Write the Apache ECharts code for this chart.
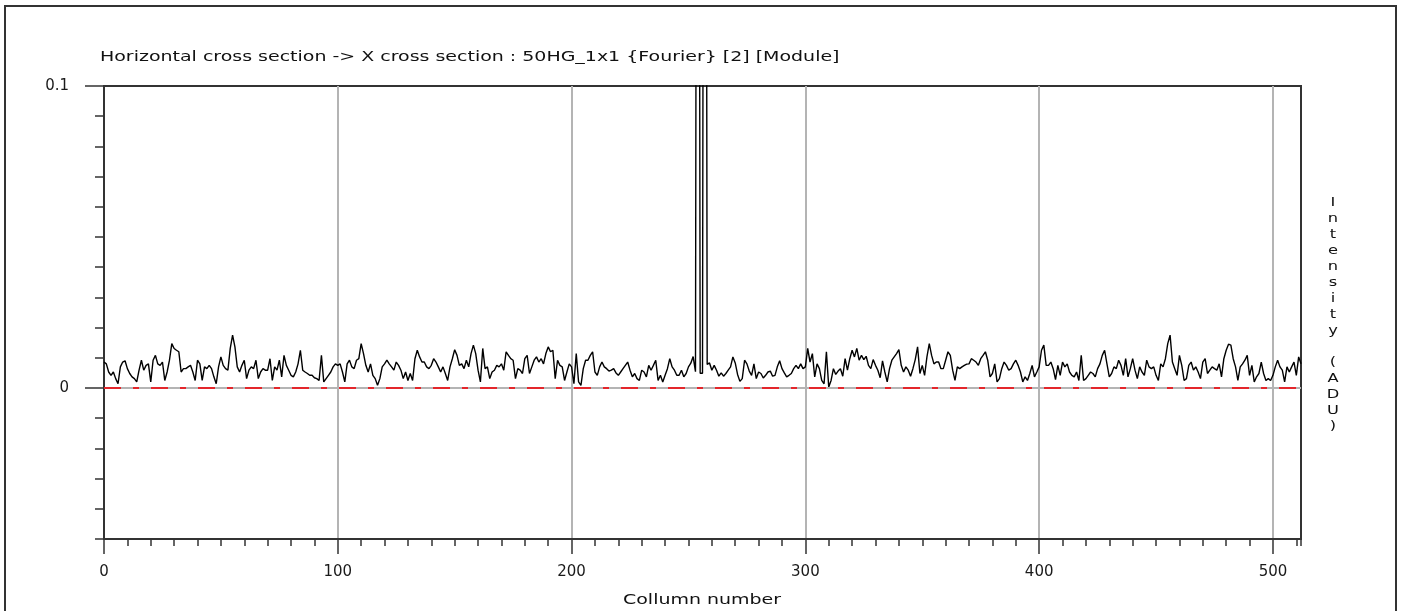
<!DOCTYPE html>
<html><head><meta charset="utf-8">
<script src="https://cdn.jsdelivr.net/npm/echarts@6/dist/echarts.min.js"></script>
<style>html,body{margin:0;padding:0;background:#fff}#c{width:1402px;height:611px}</style>
</head><body><div id="c"></div>
<script>
const titleText = 'Horizontal cross section -> X cross section : 50HG_1x1 {Fourier} [2] [Module]';
const xAxisName = 'Collumn number';
const yAxisName = 'Intensity (ADU)';
const xMin = 0, xMax = 512, xMajorStep = 100, xMinorStep = 10;
const xMajorTicks = [0, 100, 200, 300, 400, 500];
const yMin = -0.05, yMax = 0.1, yMinorStep = 0.01;
const yLabelTicks = [0, 0.1];
// intensity per column 0..512 (the two spikes at 254 and 257 run off the top)
const intensity = [
  .0086,.008,.0053,.0042,.0053,.0031,.0014,.007,.0086,.009,
  .0064,.0048,.0037,.0031,.002,.0059,.0092,.0059,.0075,.008,
  .002,.0092,.0108,.008,.0075,.0086,.0025,.0053,.0092,.0147,
  .0131,.0125,.012,.0053,.0064,.0064,.007,.0075,.0053,.0025,
  .0092,.008,.0025,.007,.0064,.0075,.0064,.0037,.0014,.007,
  .0103,.0075,.0064,.0059,.0131,.0175,.0136,.007,.0053,.0075,
  .0092,.0031,.0059,.007,.0064,.0092,.0031,.0053,.0064,.0059,
  .0059,.0097,.0025,.007,.0059,.0092,.0037,.0108,.0075,.0059,
  .0042,.0037,.0053,.008,.0125,.0059,.0053,.0048,.0042,.0042,
  .0034,.0031,.0025,.0108,.002,.0031,.0042,.0053,.007,.008,
  .0075,.008,.0053,.002,.008,.0092,.007,.0064,.0092,.0097,
  .0147,.0114,.0075,.0053,.008,.0042,.0031,.0009,.0031,.007,
  .008,.0092,.008,.007,.0059,.0086,.0075,.0059,.0031,.0053,
  .0025,.0048,.0025,.0097,.0125,.0103,.0086,.0086,.007,.0064,
  .0075,.0097,.0086,.007,.0053,.007,.0048,.0025,.007,.0097,
  .0127,.0108,.0075,.008,.0064,.0092,.007,.0114,.0142,.0114,
  .0059,.002,.0131,.0064,.007,.0031,.0053,.0059,.0075,.007,
  .008,.0059,.012,.0108,.0097,.0092,.0031,.0064,.0059,.0048,
  .0097,.0108,.0048,.007,.0092,.0103,.0086,.0097,.008,.0114,
  .0136,.012,.0125,.0031,.0092,.0075,.007,.0025,.0053,.008,
  .007,.0014,.0114,.002,.0009,.0064,.0092,.0092,.0108,.012,
  .0053,.0042,.007,.0086,.007,.0064,.0056,.0059,.0064,.005,
  .0042,.0053,.0064,.0075,.0086,.0059,.0037,.0048,.0031,.0025,
  .0059,.0053,.0037,.0075,.0059,.0075,.0092,.0025,.0042,.002,
  .0042,.0064,.0097,.007,.0059,.0042,.0042,.0059,.0037,.0048,
  .007,.0082,.0104,.0054,0.5,.0049,.0049,0.5,.0078,.0083,
  .0059,.0075,.0059,.0039,.005,.0039,.0048,.0059,.007,.0103,
  .0083,.0045,.0022,.0031,.0092,.008,.0056,.0042,.008,.0031,
  .0053,.0048,.0033,.0042,.0053,.0056,.0039,.0042,.007,.009,
  .0064,.005,.0037,.0042,.0048,.0064,.0075,.0064,.008,.0064,
  .007,.0131,.0086,.0114,.0037,.008,.0064,.0025,.0014,.012,
  .0003,.0025,.0064,.0045,.0056,.0064,.0039,.0097,.0059,.0097,
  .0125,.0103,.0131,.0092,.0108,.0094,.0105,.0075,.0064,.0094,
  .0075,.0059,.0034,.009,.0053,.002,.0064,.0092,.0103,.0114,
  .0127,.0075,.0053,.007,.0059,.0039,.0064,.0094,.0136,.0048,
  .0075,.0042,.0103,.0147,.0108,.008,.0086,.0086,.0064,.0064,
  .0092,.012,.0108,.0059,.0025,.007,.0064,.007,.0075,.0079,
  .008,.0097,.0092,.0086,.0075,.0097,.0108,.012,.0092,.0037,
  .0048,.008,.002,.0031,.0064,.0086,.0075,.0059,.0064,.008,
  .0092,.0075,.0053,.002,.0037,.0025,.0048,.0075,.0037,.0053,
  .007,.0125,.0142,.0075,.0075,.0086,.0064,.0028,.0075,.0042,
  .0086,.007,.008,.0053,.0042,.0037,.0053,.0025,.0108,.0025,
  .0031,.0042,.0053,.0048,.0037,.0064,.008,.0108,.0125,.008,
  .0037,.0048,.007,.0064,.0092,.0075,.0042,.0097,.0037,.0064,
  .0097,.0059,.0031,.007,.0053,.0042,.0092,.007,.0064,.007,
  .0042,.0025,.008,.007,.0097,.0147,.0175,.0086,.0064,.0042,
  .0108,.0075,.0025,.0031,.0075,.0086,.0059,.007,.0053,.0031,
  .0086,.0097,.0048,.0059,.007,.0064,.0059,.008,.0037,.0097,
  .0125,.0145,.0142,.0097,.007,.0025,.007,.008,.0092,.0108,
  .0042,.0075,.002,.0037,.0048,.0086,.0048,.0025,.0031,.0025,
  .0042,.007,.0092,.007,.0059,.002,.007,.0053,.007,.0086,
  .0042,.0103,.008
];

const chart = echarts.init(document.getElementById('c'), null, {renderer: 'canvas'});
const dark = '#333333';
const labelFont = {fontFamily: 'DejaVu Sans', fontSize: 15, color: '#1a1a1a'};
const stretch = 1.355;
const option = {
  animation: false,
  backgroundColor: '#ffffff',
  grid: {left: 104, right: 101, top: 86, bottom: 72, show: true, borderColor: dark, borderWidth: 2, backgroundColor: 'transparent'},
  xAxis: [
    {type: 'value', position: 'bottom', min: xMin, max: xMax, interval: xMinorStep,
      axisLine: {show: true, onZero: false, lineStyle: {color: dark, width: 2}},
      axisTick: {show: true, length: 7, lineStyle: {color: dark, width: 1.5}},
      axisLabel: {show: false}, splitLine: {show: false}},
    {type: 'value', position: 'bottom', min: xMin, max: xMax, interval: xMajorStep,
      axisLine: {show: false, onZero: false},
      axisTick: {show: true, length: 15, customValues: xMajorTicks, lineStyle: {color: dark, width: 1.5}},
      axisLabel: Object.assign({margin: 26, customValues: xMajorTicks}, labelFont),
      splitLine: {show: true, lineStyle: {color: '#b4b4b4', width: 2}}}
  ],
  yAxis: [
    {type: 'value', position: 'left', min: yMin, max: yMax, interval: yMinorStep,
      axisLine: {show: true, onZero: false, lineStyle: {color: dark, width: 2}},
      axisTick: {show: true, length: 9, lineStyle: {color: dark, width: 1.5}},
      axisLabel: {show: false}, splitLine: {show: false}},
    {type: 'value', position: 'left', min: yMin, max: yMax, interval: 0.05,
      axisLine: {show: false, onZero: false},
      axisTick: {show: true, length: 19, customValues: yLabelTicks, lineStyle: {color: dark, width: 1.5}},
      axisLabel: Object.assign({margin: 35, customValues: yLabelTicks,
        formatter: v => (Math.abs(v) < 1e-9 ? '0' : String(+v.toFixed(3)))}, labelFont),
      splitLine: {show: false}}
  ],
  series: [{
    type: 'line', xAxisIndex: 0, yAxisIndex: 0,
    data: intensity.map((v, i) => [i, v]),
    symbol: 'none', showSymbol: false, clip: true, z: 3,
    lineStyle: {color: '#000000', width: 1.4},
    markLine: {
      silent: true, symbol: ['none', 'none'], label: {show: false}, animation: false,
      data: [
        {yAxis: 0, lineStyle: {color: '#b4b4b4', width: 2, type: 'solid'}},
        {yAxis: 0, lineStyle: {color: '#e3262b', width: 2, type: [17, 12, 6, 12]}}
      ]
    }
  }],
  graphic: [
    {type: 'rect', silent: true, shape: {x: 5, y: 6, width: 1391, height: 700},
      style: {fill: null, stroke: dark, lineWidth: 2}},
    {type: 'text', silent: true, x: 100, y: 57, scaleX: stretch,
      style: {text: titleText, font: '14px "DejaVu Sans"', fill: '#111', textAlign: 'left', verticalAlign: 'middle', textVerticalAlign: 'middle'}},
    {type: 'text', silent: true, x: 702, y: 600, scaleX: stretch,
      style: {text: xAxisName, font: '14px "DejaVu Sans"', fill: '#111', textAlign: 'center', verticalAlign: 'middle', textVerticalAlign: 'middle'}},
    {type: 'text', silent: true, x: 1333, y: 195, scaleX: 1.25,
      style: {text: yAxisName.split('').join('\n'), font: '13px "DejaVu Sans"', lineHeight: 16, fill: '#111', textAlign: 'center', verticalAlign: 'top', textVerticalAlign: 'top'}}
  ]
};
chart.setOption(option);
</script>
</body></html>
